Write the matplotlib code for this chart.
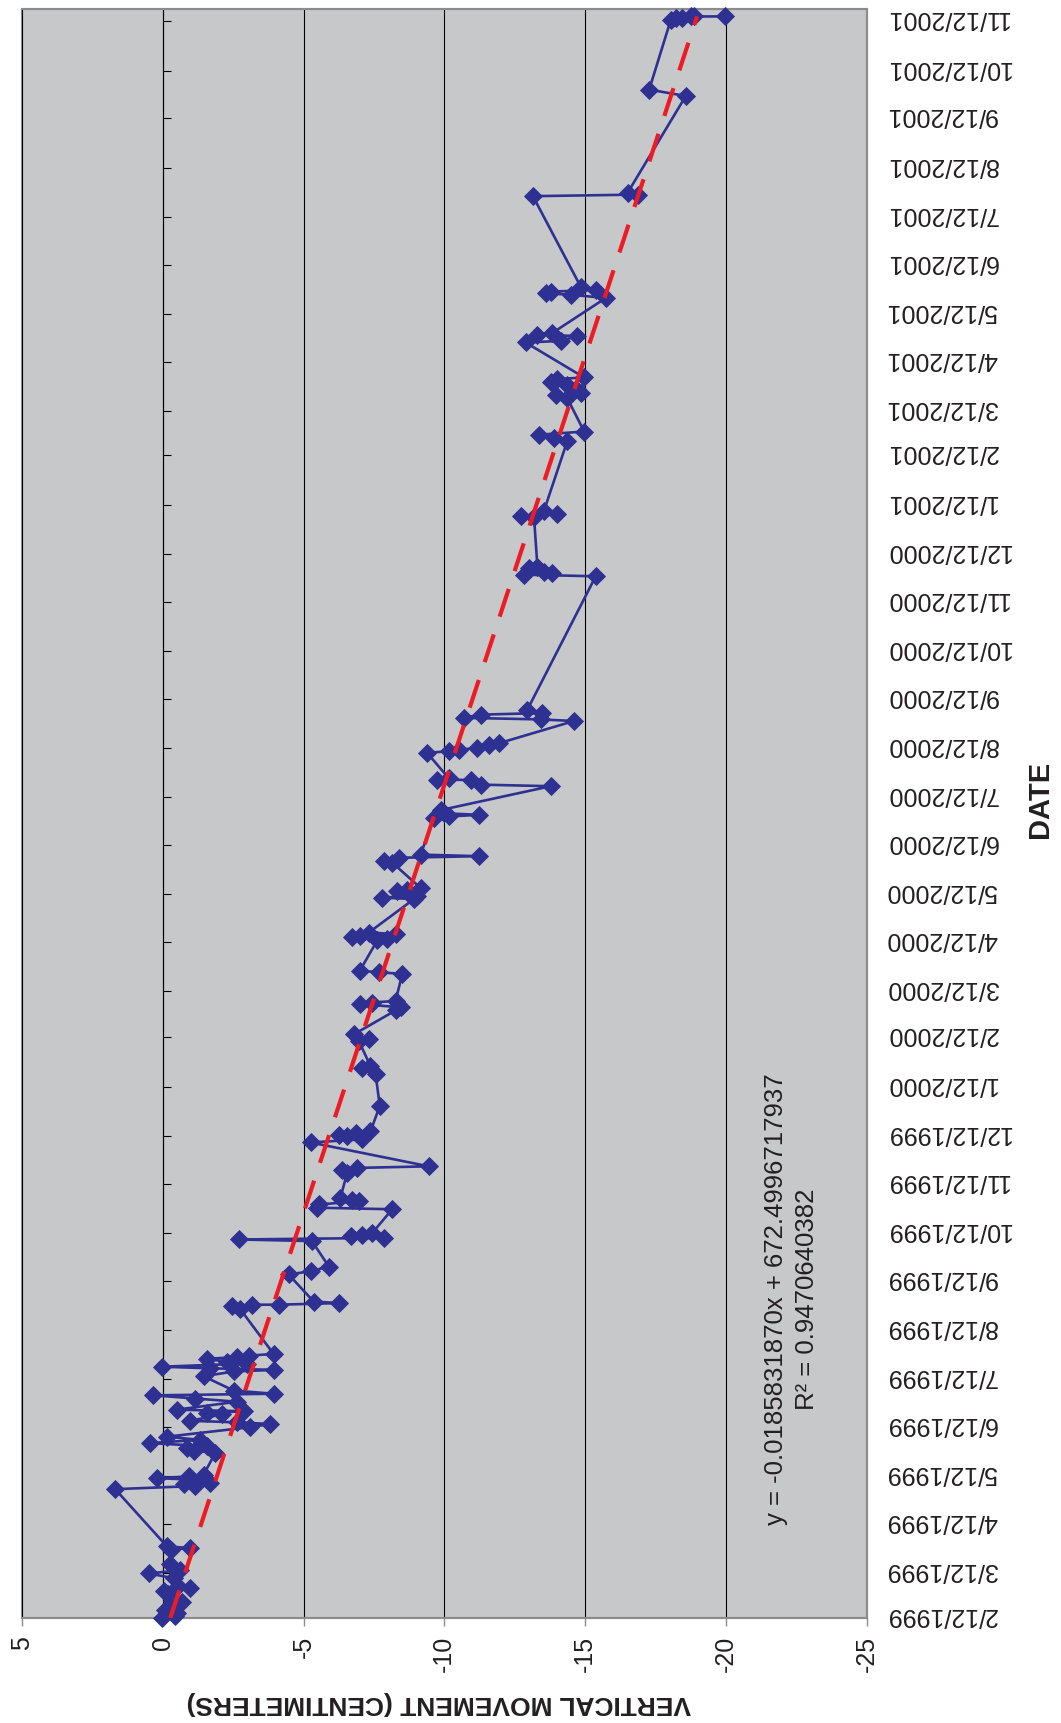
import matplotlib
matplotlib.use("Agg")
import matplotlib.pyplot as plt
import matplotlib.dates as mdates
import matplotlib.transforms as mtransforms
import numpy as np
from datetime import datetime

plt.rcParams['font.family'] = ['Liberation Sans', 'DejaVu Sans']

# Survey dates and vertical movement (cm)
survey_dates = [
    "1999-02-12", "1999-02-13", "1999-02-15", "1999-02-17", "1999-02-20", "1999-02-22",
    "1999-02-23", "1999-02-27", "1999-03-01", "1999-03-03", "1999-03-04",
    "1999-03-09", "1999-03-12", "1999-03-14", "1999-03-18",
    "1999-03-27", "1999-03-28", "1999-03-29",
    "1999-05-04", "1999-05-06", "1999-05-07", "1999-05-08", "1999-05-10", "1999-05-11",
    "1999-05-12", "1999-05-13",
    "1999-05-27", "1999-05-28", "1999-05-30", "1999-05-31", "1999-06-02", "1999-06-04",
    "1999-06-06",
    "1999-06-12", "1999-06-14", "1999-06-15", "1999-06-16", "1999-06-20", "1999-06-21",
    "1999-06-22", "1999-06-23",
    "1999-06-28", "1999-06-30", "1999-07-02", "1999-07-03", "1999-07-05",
    "1999-07-14", "1999-07-17", "1999-07-18", "1999-07-19", "1999-07-20", "1999-07-22",
    "1999-07-23", "1999-07-25", "1999-07-26", "1999-07-27", "1999-07-28",
    "1999-08-25", "1999-08-27", "1999-08-28", "1999-08-28", "1999-08-29", "1999-08-30",
    "1999-09-16", "1999-09-18", "1999-09-21",
    "1999-10-07", "1999-10-08", "1999-10-09", "1999-10-10", "1999-10-11", "1999-10-12",
    "1999-10-27", "1999-10-28", "1999-10-30", "1999-11-01", "1999-11-02", "1999-11-03",
    "1999-11-19", "1999-11-21", "1999-11-22", "1999-11-23",
    "1999-12-08", "1999-12-10", "1999-12-12", "1999-12-13", "1999-12-14", "1999-12-15",
    "1999-12-31",
    "2000-01-20", "2000-01-24", "2000-01-25",
    "2000-02-10", "2000-02-11", "2000-02-14",
    "2000-02-29", "2000-03-02", "2000-03-04", "2000-03-05", "2000-03-06",
    "2000-03-23", "2000-03-24", "2000-03-25",
    "2000-04-13", "2000-04-14", "2000-04-15", "2000-04-16", "2000-04-17", "2000-04-18",
    "2000-05-09", "2000-05-10", "2000-05-11", "2000-05-14", "2000-05-15", "2000-05-16",
    "2000-06-01", "2000-06-02", "2000-06-04", "2000-06-05", "2000-06-06",
    "2000-06-29", "2000-06-30", "2000-07-01", "2000-07-02", "2000-07-04",
    "2000-07-19", "2000-07-20", "2000-07-23", "2000-07-23", "2000-07-24",
    "2000-08-09", "2000-08-10", "2000-08-11", "2000-08-12", "2000-08-14", "2000-08-15",
    "2000-08-29", "2000-08-30", "2000-08-31", "2000-09-02", "2000-09-03", "2000-09-05",
    "2000-11-28", "2000-11-29", "2000-11-30", "2000-12-01", "2000-12-03", "2000-12-04",
    "2001-01-04", "2001-01-05", "2001-01-06", "2001-01-08",
    "2001-02-21", "2001-02-23", "2001-02-25", "2001-02-27",
    "2001-03-20", "2001-03-22", "2001-03-23", "2001-03-26", "2001-03-28", "2001-03-30",
    "2001-04-01", "2001-04-02",
    "2001-04-24", "2001-04-25", "2001-04-28", "2001-04-29", "2001-04-30",
    "2001-05-22", "2001-05-24", "2001-05-25", "2001-05-26", "2001-05-27", "2001-05-29",
    "2001-07-25", "2001-07-26", "2001-07-27",
    "2001-09-26", "2001-09-30",
    "2001-11-13", "2001-11-14", "2001-11-14", "2001-11-15", "2001-11-15", "2001-11-15",
]
movement_cm = [
    0.03, -0.45, -0.50, -0.09, -0.30, -0.68,
    -0.33, -0.20, -0.03, -0.98, -0.55,
    -0.40, 0.50, -0.62, -0.27,
    -0.30, -0.98, -0.15,
    1.69, -1.16, -0.74, -1.69, -1.00, 0.21,
    -0.92, -1.45,
    -1.87, -1.10, -0.86, -1.57, 0.47, -1.33,
    -0.15,
    -3.11, -3.82, -2.64, -0.98, -2.10, -1.57,
    -2.87, -0.50,
    -2.64, -1.16, 0.33, -3.94, -2.52,
    -1.45, -2.52, -3.94, -1.69, 0.03, -3.00,
    -2.28, -1.57, -2.64, -3.05, -3.94,
    -2.76, -2.46, -3.17, -4.12, -6.25, -5.36,
    -4.47, -5.25, -5.90,
    -5.30, -2.70, -7.85, -6.67, -7.08, -7.44,
    -8.15, -5.48, -5.55, -6.96, -6.73, -6.31,
    -6.55, -6.37, -6.91, -9.45,
    -5.25, -7.08, -6.55, -6.25, -6.85, -7.38,
    -7.71,
    -7.56, -7.08, -7.38,
    -6.96, -7.32, -6.79,
    -8.27, -8.45, -7.02, -7.44, -8.27,
    -8.51, -7.68, -7.00,
    -7.62, -7.97, -6.73, -7.02, -8.27, -7.32,
    -8.92, -7.79, -9.04, -8.33, -8.68, -9.16,
    -8.15, -7.85, -8.39, -11.23, -9.16,
    -9.63, -10.16, -11.23, -9.99, -9.87,
    -13.78, -11.29, -10.94, -9.75, -10.16,
    -9.39, -10.16, -10.52, -11.17, -11.59, -11.94,
    -14.61, -13.42, -10.70, -11.29, -13.48, -12.95,
    -15.38, -12.83, -13.84, -13.54, -13.01, -13.31,
    -13.19, -12.71, -14.02, -13.54,
    -14.37, -13.90, -13.37, -14.97,
    -14.37, -13.96, -14.85, -14.67, -14.37, -13.78,
    -14.02, -14.97,
    -12.89, -14.14, -14.73, -13.31, -13.84,
    -15.74, -14.49, -13.60, -13.78, -15.38, -14.85,
    -13.15, -16.89, -16.51,
    -18.58, -17.28,
    -18.05, -18.23, -18.46, -18.76, -18.88, -19.97,
]

# Linear trend fitted against spreadsheet serial dates
trend_slope = -0.0185831870
trend_intercept = 672.4996717937
trend_r2 = 0.9470640382

value_ticks = [5, 0, -5, -10, -15, -20, -25]
value_tick_labels = ["5", "0", "-5", "-10", "-15", "-20", "-25"]

date_tick_labels = [
    "2/12/1999", "3/12/1999", "4/12/1999", "5/12/1999", "6/12/1999", "7/12/1999",
    "8/12/1999", "9/12/1999", "10/12/1999", "11/12/1999", "12/12/1999",
    "1/12/2000", "2/12/2000", "3/12/2000", "4/12/2000", "5/12/2000", "6/12/2000",
    "7/12/2000", "8/12/2000", "9/12/2000", "10/12/2000", "11/12/2000", "12/12/2000",
    "1/12/2001", "2/12/2001", "3/12/2001", "4/12/2001", "5/12/2001", "6/12/2001",
    "7/12/2001", "8/12/2001", "9/12/2001", "10/12/2001", "11/12/2001",
]

BLUE = "#2e3192"
RED = "#ed1c24"
PANEL = "#c7c8ca"
FRAME = "#8c8c8c"
TEXT = "#231f20"

W, H = 1061, 1723
fig = plt.figure(figsize=(W / 100, H / 100), dpi=100)
fig.patch.set_facecolor("white")

left, right, top, bottom = 22, 866.5, 8.5, 1618
ax = fig.add_axes([left / W, 1 - bottom / H, (right - left) / W, (bottom - top) / H])
ax.set_facecolor(PANEL)
ax.patch.set_edgecolor(FRAME)
ax.patch.set_linewidth(1.5)

# Spines first: moving a spine resets the ticks of its axis
ax.spines["left"].set_position(("data", 0))
ax.spines["left"].set_color("black")
ax.spines["left"].set_linewidth(0.8)
for side in ("top", "bottom", "right"):
    ax.spines[side].set_color(FRAME)
    ax.spines[side].set_linewidth(1.5)

t = mdates.datestr2num(survey_dates)
ax.plot(movement_cm, t, color=BLUE, lw=1.9, marker="D", ms=9,
        mfc=BLUE, mec=BLUE, mew=0.6, zorder=3, clip_on=False)

# Trend line, evaluated on spreadsheet serial day numbers
t_ends = np.array([t.min(), t.max()])
serial = t_ends + 25569
trend = trend_slope * serial + trend_intercept
ax.plot(trend, t_ends, color=RED, lw=3.0, dashes=(7, 4.5),
        solid_capstyle="butt", dash_capstyle="butt", zorder=4)

# Value axis (horizontal)
ax.set_xlim(5, -25)
ax.set_xticks(value_ticks)
ax.set_xticklabels(value_tick_labels, rotation=90, color=TEXT)
ax.tick_params(axis="x", direction="out", length=6, width=1.0, color=FRAME,
               pad=7, labelsize=18)
ax.grid(axis="x", color="black", lw=0.8)
ax.grid(axis="y", visible=False)
ax.set_axisbelow(True)

# Date axis crosses at zero, labels sit outside the right edge
tick_pos = [mdates.date2num(datetime.strptime(s, "%m/%d/%Y")) for s in date_tick_labels]
ax.set_ylim(mdates.datestr2num("1999-02-12"), mdates.datestr2num("2001-11-20"))
ax.set_yticks(tick_pos)
ax.set_yticklabels(date_tick_labels, color=TEXT)
ax.tick_params(axis="y", left=True, right=False, labelleft=False, labelright=True,
               direction="in", length=6, width=0.8, color="black", pad=14,
               labelsize=18, labelrotation=180)
# upside-down labels: nudge so the digits sit centred on their tick
lift = mtransforms.ScaledTranslation(0, 3 / 100, fig.dpi_scale_trans)
for tk in ax.yaxis.get_major_ticks():
    tk.label2.set_rotation(180)
    tk.label2.set_horizontalalignment("left")
    tk.label2.set_verticalalignment("center")
    tk.label2.set_transform(tk.label2.get_transform() + lift)

ax.text(0.911, 0.198,
        f"y = {trend_slope:.10f}x + {trend_intercept:.10f}\nR\u00b2 = {trend_r2:.10f}",
        transform=ax.transAxes, rotation=90, ha="center", va="center",
        multialignment="center", linespacing=1.35, fontsize=18.5, color=TEXT)

fig.text(439 / W, 1 - 1703 / H, "VERTICAL MOVEMENT (CENTIMETERS)", rotation=180,
         ha="center", va="center", fontsize=19, fontweight="bold", color=TEXT)
fig.text(1040 / W, 1 - 799 / H, "DATE", rotation=90,
         ha="center", va="center", fontsize=21, fontweight="bold", color=TEXT)

fig.savefig("out.png", dpi=100, facecolor="white")
